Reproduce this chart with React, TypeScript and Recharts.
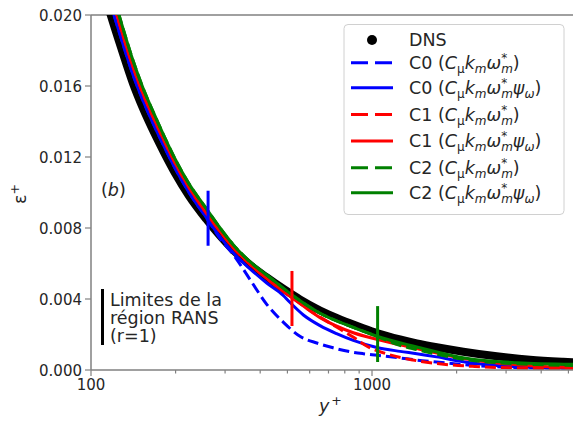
import React from 'react';
import { LineChart, Line, XAxis, YAxis, ReferenceLine } from 'recharts';

const W = 573;
const H = 423;
const FONT = '"DejaVu Sans", sans-serif';
const AXIS = '#808080';
const TXT = '#262626';

// DNS (dots, drawn as a thick band)
const dnsY = [112, 117, 128, 141, 153, 168, 182, 199, 223, 257, 288, 321, 368, 422, 483, 554, 636, 727, 835, 931, 1047, 1258, 1443, 1700, 2113, 2778, 3650, 4783, 5191];
const dnsEps = [0.0211, 0.0201, 0.01815, 0.01615, 0.01475, 0.01335, 0.01225, 0.0111, 0.00982, 0.0085, 0.00755, 0.00675, 0.00592, 0.00522, 0.00458, 0.00398, 0.00345, 0.00302, 0.00263, 0.00235, 0.00207, 0.00172, 0.0015, 0.00128, 0.00103, 0.00077, 0.00058, 0.00046, 0.00043];

// C0 (C_mu k_m w*_m)
const c0Y = [112, 117, 128, 141, 153, 168, 182, 199, 223, 257, 288, 321, 368, 422, 483, 554, 636, 727, 835, 931, 1047, 1258, 1443, 1700, 2113, 2778, 3650, 5191];
const c0Eps = [0.0217, 0.0207, 0.0187, 0.01665, 0.0152, 0.01375, 0.0126, 0.01138, 0.01002, 0.0086, 0.0074, 0.0065, 0.0051, 0.0037, 0.0027, 0.0019, 0.00152, 0.00125, 0.00103, 0.00092, 0.00083, 0.00068, 0.00056, 0.00045, 0.0003, 0.00018, 0.00012, 0.0001];

// C0 (C_mu k_m w*_m psi_w)
const c0pY = [112, 117, 128, 141, 153, 168, 182, 199, 223, 257, 288, 321, 368, 422, 483, 511, 570, 653, 748, 858, 1040, 1258, 1443, 1700, 2113, 2778, 3650, 5191];
const c0pEps = [0.0217, 0.0207, 0.0187, 0.01665, 0.0152, 0.01375, 0.0126, 0.01138, 0.01002, 0.0086, 0.0075, 0.0066, 0.0057, 0.0049, 0.0042, 0.0038, 0.0031, 0.0025, 0.00205, 0.00167, 0.00127, 0.00105, 0.00092, 0.00074, 0.00047, 0.00026, 0.00015, 0.0001];

// C1
const c1Y = [112, 117, 128, 141, 153, 168, 182, 199, 223, 257, 288, 321, 368, 434, 522, 595, 716, 848, 970, 1130, 1400, 1866, 2320, 3400, 5191];
const c1Eps = [0.0223, 0.0213, 0.0192, 0.0171, 0.01558, 0.0141, 0.01292, 0.01168, 0.0103, 0.00885, 0.0078, 0.00688, 0.00595, 0.005, 0.00405, 0.0034, 0.0026, 0.0019, 0.0013, 0.0009, 0.00056, 0.0003, 0.0002, 0.00011, 0.00008];

const c1pY = [112, 117, 128, 141, 153, 168, 182, 199, 223, 257, 288, 321, 368, 434, 522, 653, 858, 1040, 1443, 1700, 2113, 2778, 3650, 5191];
const c1pEps = [0.0223, 0.0213, 0.0192, 0.0171, 0.01558, 0.0141, 0.01292, 0.01168, 0.0103, 0.00885, 0.0078, 0.00688, 0.00595, 0.005, 0.00405, 0.00295, 0.0021, 0.00173, 0.00121, 0.00095, 0.00065, 0.0004, 0.00024, 0.00012];

// C2
const c2Y = [112, 117, 128, 141, 153, 168, 182, 199, 223, 257, 288, 321, 368, 434, 522, 653, 858, 1040, 1224, 1443, 2160, 3280, 5191];
const c2Eps = [0.0227, 0.0217, 0.0196, 0.01745, 0.0159, 0.0144, 0.01318, 0.0119, 0.0105, 0.0091, 0.008, 0.00705, 0.0061, 0.0052, 0.0042, 0.0032, 0.0024, 0.0019, 0.00145, 0.00115, 0.00058, 0.00035, 0.00026];

const c2pY = [112, 117, 128, 141, 153, 168, 182, 199, 223, 257, 288, 321, 368, 434, 522, 653, 858, 1040, 1443, 2160, 3280, 5191];
const c2pEps = [0.0227, 0.0217, 0.0196, 0.01745, 0.0159, 0.0144, 0.01318, 0.0119, 0.0105, 0.0091, 0.008, 0.00705, 0.0061, 0.0052, 0.0042, 0.0032, 0.0024, 0.0019, 0.0013, 0.00066, 0.00041, 0.00032];

// RANS region limits (r=1)
const limY = [261, 519, 1047];
const limLo = [0.007, 0.00248, 0.00045];
const limHi = [0.0101, 0.00558, 0.0036];
const limColors = ['#0000ff', '#ff0000', '#008000'];

const xTicks = [100, 200, 300, 400, 500, 600, 700, 800, 900, 1000, 2000, 3000, 4000, 5000];
const yTicks = [0, 0.004, 0.008, 0.012, 0.016, 0.02];

const zip = (xs: number[], ys: number[]) => xs.map((x, i) => ({ yp: x, eps: ys[i] }));

const series = [
  { key: 'c0', data: zip(c0Y, c0Eps), color: '#0000ff', dash: true, name: 'C0', psi: false },
  { key: 'c0p', data: zip(c0pY, c0pEps), color: '#0000ff', dash: false, name: 'C0', psi: true },
  { key: 'c1', data: zip(c1Y, c1Eps), color: '#ff0000', dash: true, name: 'C1', psi: false },
  { key: 'c1p', data: zip(c1pY, c1pEps), color: '#ff0000', dash: false, name: 'C1', psi: true },
  { key: 'c2', data: zip(c2Y, c2Eps), color: '#008000', dash: true, name: 'C2', psi: false },
  { key: 'c2p', data: zip(c2pY, c2pEps), color: '#008000', dash: false, name: 'C2', psi: true },
];

const XTick = (props: any) => {
  const { x, y, payload } = props;
  const v = payload.value;
  const major = v === 100 || v === 1000;
  return (
    <g>
      <line x1={x} x2={x} y1={y} y2={y + (major ? 6 : 3.5)} stroke={AXIS} strokeWidth={1.2} />
      {major && (
        <text x={x} y={y + 20} textAnchor="middle" fontSize={15} fontFamily={FONT} fill={TXT}>
          {v}
        </text>
      )}
    </g>
  );
};

const YTick = (props: any) => {
  const { x, y, payload } = props;
  return (
    <g>
      <line x1={x - 6} x2={x} y1={y} y2={y} stroke={AXIS} strokeWidth={1.2} />
      <text x={x - 9} y={y + 5.5} textAnchor="end" fontSize={15} fontFamily={FONT} fill={TXT}>
        {payload.value.toFixed(3)}
      </text>
    </g>
  );
};

const LegendLabel = ({ x, y, name, psi }: { x: number; y: number; name: string; psi: boolean }) => (
  <text x={x} y={y} fontSize={17.5} fontFamily={FONT} fill={TXT}>
    {`${name} (`}
    <tspan fontStyle="italic">C</tspan>
    <tspan fontSize={12} dy={4}>μ</tspan>
    <tspan fontStyle="italic" dy={-4}>k</tspan>
    <tspan fontSize={12} fontStyle="italic" dy={4}>m</tspan>
    <tspan fontStyle="italic" dy={-4}>ω</tspan>
    <tspan fontSize={12} dy={-7}>*</tspan>
    <tspan fontSize={12} fontStyle="italic" dx={-6} dy={11}>m</tspan>
    {psi ? (
      <>
        <tspan fontStyle="italic" dy={-4}>ψ</tspan>
        <tspan fontSize={12} fontStyle="italic" dy={4}>ω</tspan>
        <tspan dy={-4}>)</tspan>
      </>
    ) : (
      <tspan dy={-4}>)</tspan>
    )}
  </text>
);

const legendRows = [69, 94, 120.7, 147.3, 174, 199];

export default function App() {
  return (
    <div style={{ position: 'absolute', left: 0, top: 0, width: W, height: H, background: '#fff' }}>
      <LineChart width={W} height={H} margin={{ top: 15, right: 0, bottom: 0, left: 0 }}>
        <XAxis
          dataKey="yp"
          type="number"
          scale="log"
          domain={[100, 5191]}
          allowDataOverflow
          ticks={xTicks}
          interval={0}
          height={53}
          tickSize={0}
          tickMargin={0}
          tickLine={false}
          axisLine={{ stroke: AXIS, strokeWidth: 1.5 }}
          tick={<XTick />}
        />
        <YAxis
          type="number"
          domain={[0, 0.02]}
          allowDataOverflow
          ticks={yTicks}
          interval={0}
          width={91}
          tickSize={0}
          tickMargin={0}
          tickLine={false}
          axisLine={{ stroke: AXIS, strokeWidth: 1.5 }}
          tick={<YTick />}
        />
        <ReferenceLine y={0.02} stroke={AXIS} strokeWidth={1.5} />
        <Line
          data={zip(dnsY, dnsEps)}
          dataKey="eps"
          type="monotone"
          stroke="#000"
          strokeWidth={8}
          dot={false}
          isAnimationActive={false}
        />
        {series.map((s) => (
          <Line
            key={s.key}
            data={s.data}
            dataKey="eps"
            type="monotone"
            stroke={s.color}
            strokeWidth={3}
            strokeDasharray={s.dash ? '11 5' : undefined}
            dot={false}
            isAnimationActive={false}
          />
        ))}
        {limY.map((yp, i) => (
          <ReferenceLine
            key={`lim-${i}`}
            segment={[{ x: yp, y: limLo[i] }, { x: yp, y: limHi[i] }]}
            stroke={limColors[i]}
            strokeWidth={3}
          />
        ))}
      </LineChart>
      <svg width={W} height={H} style={{ position: 'absolute', left: 0, top: 0, pointerEvents: 'none' }}>
        {/* axis labels */}
        <text transform="translate(26,204) rotate(-90)" fontSize={17.5} fontFamily={FONT} fill={TXT}>
          ε<tspan fontSize={12.5} dy={-7}>+</tspan>
        </text>
        <text x={319} y={412} fontSize={17.5} fontFamily={FONT} fill={TXT}>
          <tspan fontStyle="italic">y</tspan>
          <tspan fontSize={12.5} dx={2} dy={-7}>+</tspan>
        </text>
        <text x={101} y={196} fontSize={17.5} fontFamily={FONT} fill={TXT}>
          (<tspan fontStyle="italic">b</tspan>)
        </text>
        {/* RANS limits note */}
        <line x1={102.5} x2={102.5} y1={289} y2={345} stroke="#000" strokeWidth={3} />
        <text fontSize={17.5} fontFamily={FONT} fill={TXT}>
          <tspan x={110} y={306}>Limites de la</tspan>
          <tspan x={110} y={324}>région RANS</tspan>
          <tspan x={110} y={342}>(r=1)</tspan>
        </text>
        {/* legend */}
        <rect x={344} y={24.5} width={220} height={190} rx={4} fill="#fff" fillOpacity={0.8} stroke="#d0d0d0" strokeWidth={1} />
        <circle cx={372} cy={40} r={5} fill="#000" />
        <text x={409} y={46} fontSize={17.5} fontFamily={FONT} fill={TXT}>DNS</text>
        {series.map((s, i) => (
          <g key={`leg-${s.key}`}>
            <line
              x1={351}
              x2={393}
              y1={legendRows[i] - 6.3}
              y2={legendRows[i] - 6.3}
              stroke={s.color}
              strokeWidth={3}
              strokeDasharray={s.dash ? '17 7' : undefined}
            />
            <LegendLabel x={409} y={legendRows[i]} name={s.name} psi={s.psi} />
          </g>
        ))}
      </svg>
    </div>
  );
}
